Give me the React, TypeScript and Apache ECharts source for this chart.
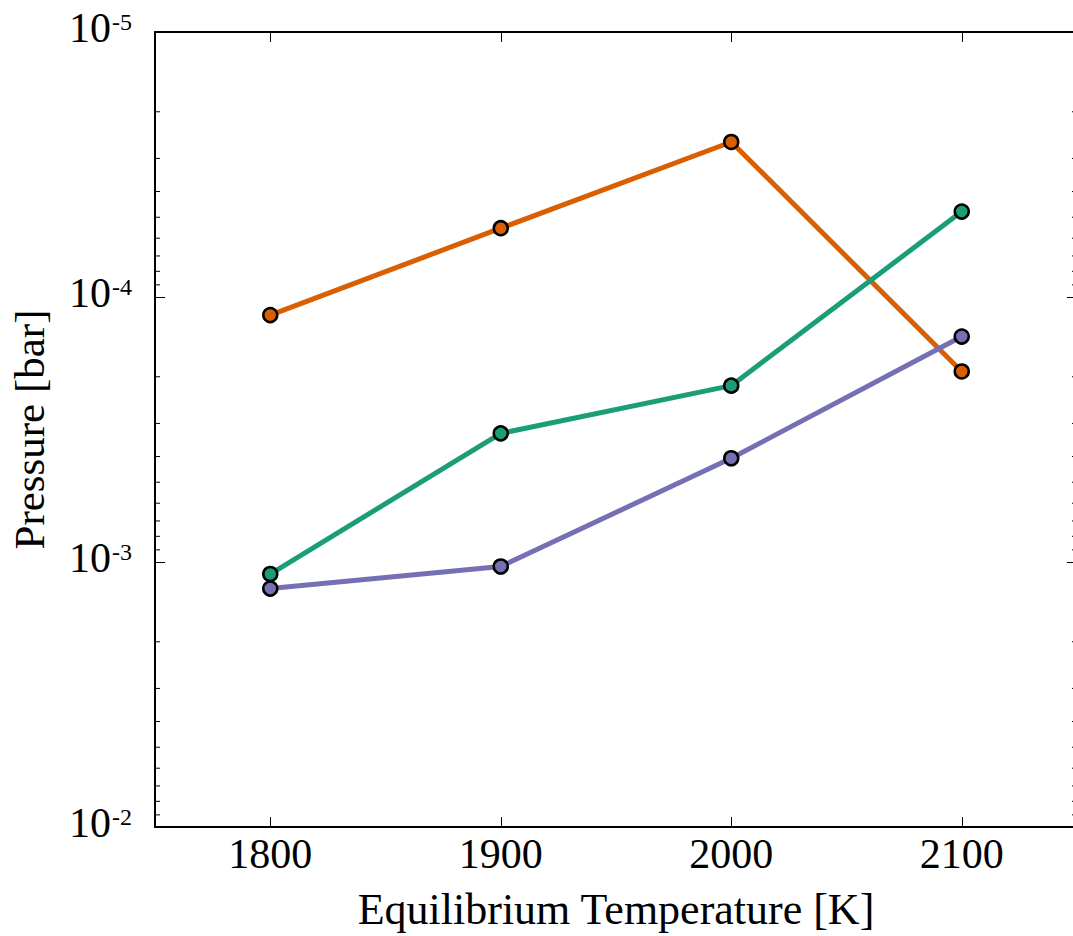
import React, { useEffect, useRef } from "react";
import * as echarts from "echarts";

// Equilibrium temperatures [K]
const temperatures = [1800, 1900, 2000, 2100];

// Pressure levels [bar] for each temperature
const orangePressure = [1.17e-4, 5.5e-5, 2.6e-5, 1.91e-4];
const greenPressure = [1.11e-3, 3.27e-4, 2.16e-4, 4.76e-5];
const purplePressure = [1.26e-3, 1.04e-3, 4.06e-4, 1.41e-4];

// Axis tick values
const xTickValues = [1800, 1900, 2000, 2100];
const yMinorMantissas = [2, 3, 4, 5, 6, 7, 8, 9];
const yDecades = [1e-5, 1e-4, 1e-3];

const FONT = "'Liberation Serif', 'DejaVu Serif', serif";
const X_MIN = 1750;
const X_MAX = 2150;

const minorTicks: number[] = [];
yDecades.forEach((d) => yMinorMantissas.forEach((m) => minorTicks.push(m * d)));

const pairs = (ys: number[]) => temperatures.map((t, i) => [t, ys[i]]);

const lineSeries = (name: string, color: string, ys: number[]) => ({
  name,
  type: "line",
  data: pairs(ys),
  symbol: "circle",
  symbolSize: 14,
  showSymbol: true,
  lineStyle: { color, width: 5 },
  itemStyle: { color, borderColor: "#000", borderWidth: 2.5 },
  z: 3,
});

export default function App() {
  const ref = useRef<HTMLDivElement>(null);

  useEffect(() => {
    if (!ref.current) return;
    const chart = echarts.init(ref.current, null, { renderer: "svg" });

    const axisLine = { show: true, onZero: false, lineStyle: { color: "#000", width: 2 } };

    const yLabel = {
      fontFamily: FONT,
      color: "#000",
      margin: 23,
      formatter: (v: number) => `{b|10}{s|-${Math.round(-Math.log10(v))}}`,
      rich: {
        b: { fontFamily: FONT, fontSize: 42, color: "#000", lineHeight: 44, padding: [0, 0, 8, 0] },
        s: { fontFamily: FONT, fontSize: 24, color: "#000", lineHeight: 44, verticalAlign: "top", padding: [0, 0, 22, 1] },
      },
    };

    chart.setOption({
      animation: false,
      backgroundColor: "#fff",
      grid: { left: 153, top: 32, width: 924, height: 796, containLabel: false },
      xAxis: [
        {
          type: "value",
          position: "bottom",
          min: X_MIN,
          max: X_MAX,
          axisLine,
          splitLine: { show: false },
          axisTick: {
            show: true,
            inside: true,
            length: 10,
            customValues: xTickValues,
            lineStyle: { color: "#000", width: 1 },
          },
          axisLabel: {
            customValues: xTickValues,
            formatter: (v: number) => String(v),
            fontFamily: FONT,
            fontSize: 42,
            color: "#000",
            margin: 6,
          },
          name: "Equilibrium Temperature [K]",
          nameLocation: "middle",
          nameGap: 60,
          nameTextStyle: { fontFamily: FONT, fontSize: 44, color: "#000" },
        },
        {
          type: "value",
          position: "top",
          min: X_MIN,
          max: X_MAX,
          axisLine,
          splitLine: { show: false },
          axisTick: {
            show: true,
            inside: true,
            length: 10,
            customValues: xTickValues,
            lineStyle: { color: "#000", width: 1 },
          },
          axisLabel: { show: false },
        },
      ],
      yAxis: [
        {
          type: "log",
          logBase: 10,
          min: 1e-5,
          max: 1e-2,
          inverse: true,
          position: "left",
          axisLine,
          splitLine: { show: false },
          axisTick: { show: true, inside: true, length: 10, lineStyle: { color: "#000", width: 1 } },
          axisLabel: yLabel,
          name: "Pressure [bar]",
          nameLocation: "middle",
          nameGap: 104,
          nameTextStyle: { fontFamily: FONT, fontSize: 43, color: "#000" },
        },
        {
          type: "log",
          logBase: 10,
          min: 1e-5,
          max: 1e-2,
          inverse: true,
          position: "right",
          axisLine,
          splitLine: { show: false },
          axisTick: { show: true, inside: true, length: 10, lineStyle: { color: "#000", width: 1 } },
          axisLabel: { show: false },
        },
      ],
      series: [
        {
          type: "custom",
          silent: true,
          clip: false,
          xAxisIndex: 0,
          yAxisIndex: 0,
          data: minorTicks.map((v) => [X_MIN, v]),
          renderItem: (_params: any, api: any) => {
            const v = api.value(1);
            const l = api.coord([X_MIN, v]);
            const r = api.coord([X_MAX, v]);
            const style = { stroke: "#000", lineWidth: 1 };
            return {
              type: "group",
              children: [
                { type: "line", shape: { x1: l[0], y1: l[1], x2: l[0] + 5, y2: l[1] }, style },
                { type: "line", shape: { x1: r[0] - 5, y1: r[1], x2: r[0], y2: r[1] }, style },
              ],
            };
          },
          z: 1,
        },
        lineSeries("orange", "#d95f02", orangePressure),
        lineSeries("green", "#1b9e77", greenPressure),
        lineSeries("purple", "#7570b3", purplePressure),
      ],
    });

    return () => chart.dispose();
  }, []);

  return (
    <div style={{ position: "absolute", left: 0, top: 0, width: 1073, height: 936, overflow: "hidden", background: "#fff" }}>
      <div ref={ref} style={{ width: 1085, height: 936 }} />
    </div>
  );
}
